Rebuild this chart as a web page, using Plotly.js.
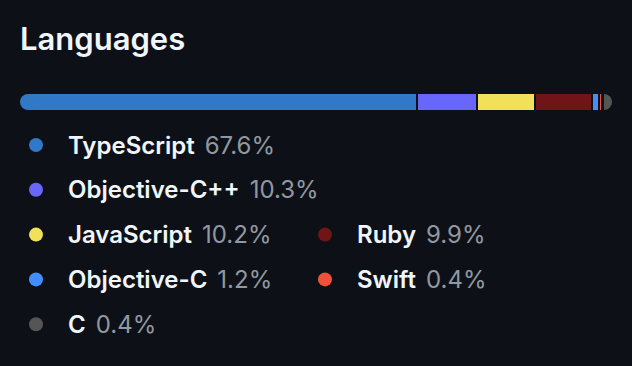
<!DOCTYPE html>
<html>
<head>
<meta charset="utf-8">
<script src="https://cdn.plot.ly/plotly-3.0.1.min.js"></script>
<style>html,body{margin:0;padding:0;background:#0d1117;}#chart{width:632px;height:366px;}</style>
</head>
<body>
<div id="chart"></div>
<script>
// Data
const languages = ["TypeScript", "Objective-C++", "JavaScript", "Ruby", "Objective-C", "Swift", "C"];
const percents  = [67.6, 10.3, 10.2, 9.9, 1.2, 0.4, 0.4];
const colors    = ["#3178c6", "#6866fb", "#f1e05a", "#701516", "#438eff", "#f05138", "#555555"];
// Legend slots [row, column], in the order of the languages above
const legendSlots = [[0,0],[1,0],[2,0],[2,1],[3,0],[3,1],[4,0]];

const W = 632, H = 366;
const BG = "#0d1117";
const FONT = "Inter, 'Noto Sans', sans-serif";

const barTop = 93, barBottom = 111, barLeft = 28, barRight = 604;

const traces = [];
// Right rounded end cap (below the bars)
traces.push({
  type: "scatter", mode: "markers", xaxis: "x", yaxis: "y",
  x: [100], y: [0],
  marker: { size: 16, color: colors[colors.length - 1], line: { width: 0 } },
  cliponaxis: false, hoverinfo: "skip", showlegend: false
});
// Stacked bar segments
languages.forEach((name, i) => {
  traces.push({
    type: "bar", orientation: "h", xaxis: "x2", yaxis: "y2",
    x: [percents[i]], y: [0], name: name,
    marker: { color: colors[i], line: { color: BG, width: 2 } },
    hoverinfo: "name+x", showlegend: false
  });
});
// Left rounded end cap (above the bars)
traces.push({
  type: "scatter", mode: "markers", xaxis: "x2", yaxis: "y2",
  x: [0], y: [0],
  marker: { size: 16, color: colors[0], line: { width: 0 } },
  cliponaxis: false, hoverinfo: "skip", showlegend: false
});
// Legend dots
const rowY = r => 145 + 44.8 * r;
const colDotX = [36, 325];
const colTextX = [66, 355];
traces.push({
  type: "scatter", mode: "markers", xaxis: "x3", yaxis: "y3",
  x: legendSlots.map(s => colDotX[s[1]]),
  y: legendSlots.map(s => rowY(s[0])),
  marker: { size: 14, color: colors },
  hoverinfo: "skip", showlegend: false, cliponaxis: false
});

const annotations = [{
  xref: "x3", yref: "y3", x: 18, y: 38, xanchor: "left", yanchor: "middle",
  text: "Languages", showarrow: false,
  font: { family: FONT, size: 31, color: "#f0f6fc", weight: 600 }
}];
languages.forEach((name, i) => {
  const s = legendSlots[i];
  annotations.push({
    xref: "x3", yref: "y3", x: colTextX[s[1]], y: rowY(s[0]),
    xanchor: "left", yanchor: "middle", showarrow: false,
    text: name + "\u2009 <span style='color:#9198a1;font-weight:400'>" + percents[i].toFixed(1) + "%</span>",
    font: { family: FONT, size: 24, color: "#f0f6fc", weight: 600 }
  });
});

const hidden = { visible: false, fixedrange: true, showgrid: false, zeroline: false };
const xd = [barLeft / W, barRight / W];
const yd = [1 - barBottom / H, 1 - barTop / H];

const layout = {
  width: W, height: H,
  margin: { l: 0, r: 0, t: 0, b: 0, pad: 0 },
  paper_bgcolor: BG, plot_bgcolor: "rgba(0,0,0,0)",
  barmode: "stack", bargap: 0,
  showlegend: false,
  xaxis: Object.assign({}, hidden, { domain: xd, range: [0, 100] }),
  yaxis: Object.assign({}, hidden, { domain: yd, range: [-0.5, 0.5] }),
  xaxis2: Object.assign({}, hidden, { overlaying: "x", range: [0, 100] }),
  yaxis2: Object.assign({}, hidden, { overlaying: "y", range: [-0.5, 0.5] }),
  xaxis3: Object.assign({}, hidden, { domain: [0, 1], range: [0, W], anchor: "y3" }),
  yaxis3: Object.assign({}, hidden, { domain: [0, 1], range: [H, 0], anchor: "x3" }),
  annotations: annotations
};

Plotly.newPlot("chart", traces, layout, { displayModeBar: false, staticPlot: true });
</script>
</body>
</html>
